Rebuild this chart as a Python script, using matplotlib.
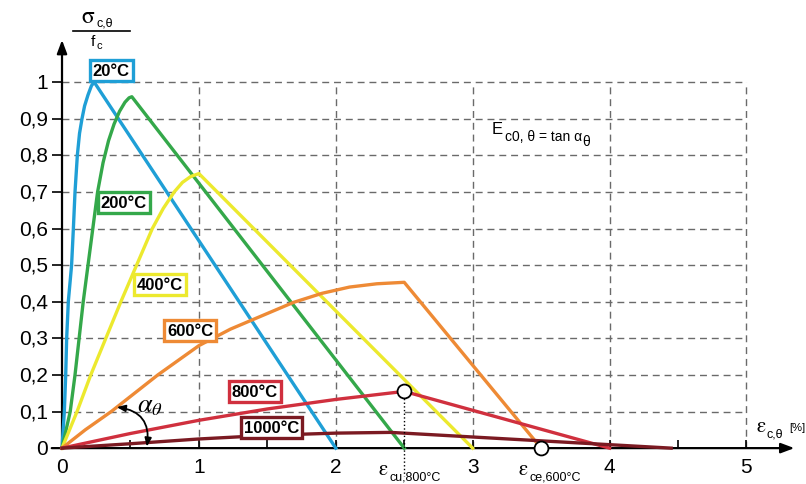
import matplotlib.pyplot as plt

plt.rcParams['font.family'] = ['Liberation Sans', 'DejaVu Sans']
plt.rcParams['mathtext.fontset'] = 'stix'

# Relative stress sigma/fc against strain [%] for each temperature
eps_20 = [0, 0.017, 0.027, 0.034, 0.046, 0.07, 0.083, 0.095, 0.112, 0.128, 0.146, 0.165, 0.19, 0.215, 0.235, 2.0]
sig_20 = [0, 0.1, 0.2, 0.3, 0.4, 0.5, 0.6, 0.7, 0.8, 0.86, 0.9, 0.935, 0.965, 0.99, 1.0, 0]

eps_200 = [0, 0.06, 0.095, 0.125, 0.155, 0.19, 0.225, 0.26, 0.3, 0.34, 0.38, 0.42, 0.46, 0.49, 0.51, 2.5]
sig_200 = [0, 0.1, 0.2, 0.3, 0.4, 0.5, 0.6, 0.7, 0.78, 0.84, 0.885, 0.92, 0.945, 0.957, 0.96, 0]

eps_400 = [0, 0.11, 0.21, 0.32, 0.43, 0.545, 0.66, 0.74, 0.82, 0.88, 0.94, 1.0, 3.0]
sig_400 = [0, 0.1, 0.2, 0.3, 0.4, 0.5, 0.6, 0.655, 0.7, 0.726, 0.742, 0.75, 0]

eps_600 = [0, 0.17, 0.36, 0.7, 1.0, 1.23, 1.4, 1.69, 1.9, 2.1, 2.3, 2.5, 3.5]
sig_600 = [0, 0.05, 0.1, 0.2, 0.28, 0.325, 0.352, 0.398, 0.423, 0.44, 0.449, 0.453, 0]

eps_800 = [0, 0.5, 1.0, 1.5, 2.0, 2.5, 4.0]
sig_800 = [0, 0.04, 0.076, 0.107, 0.133, 0.155, 0]

eps_1000 = [0, 0.5, 1.0, 1.5, 2.0, 2.4, 4.45]
sig_1000 = [0, 0.012, 0.025, 0.035, 0.041, 0.043, 0]

temps = ['20°C', '200°C', '400°C', '600°C', '800°C', '1000°C']
colors = ['#1f9fd6', '#34a84a', '#ece92e', '#ee8a35', '#d0303e', '#7b1a22']
curves = [(eps_20, sig_20), (eps_200, sig_200), (eps_400, sig_400),
          (eps_600, sig_600), (eps_800, sig_800), (eps_1000, sig_1000)]
label_pos = [(0.36, 1.033), (0.45, 0.672), (0.716, 0.448),
             (0.935, 0.322), (1.41, 0.155), (1.53, 0.055)]

x_ticks = [0, 1, 2, 3, 4, 5]
x_minor = [0.5, 1.5, 2.5, 3.5, 4.5]
y_ticks = [0, 0.1, 0.2, 0.3, 0.4, 0.5, 0.6, 0.7, 0.8, 0.9, 1.0]
y_ticklabels = ['0', '0,1', '0,2', '0,3', '0,4', '0,5', '0,6', '0,7', '0,8', '0,9', '1']

# marked points: ultimate strain at 800°C and end strain at 600°C
eps_cu_800, sig_cu_800 = 2.5, 0.155
eps_ce_600 = 3.5

fig = plt.figure(figsize=(8.06, 4.85), dpi=100)
ax = fig.add_axes([0, 0, 1, 1])
ax.set_xlim(-0.453, 5.435)
ax.set_ylim(-0.098, 1.227)
ax.axis('off')

grid = dict(color='#6a6a6a', lw=1.0, linestyles=(0, (5, 3.5)))
ax.hlines(y_ticks[1:], 0, x_ticks[-1], **grid)
ax.vlines(x_ticks[1:], 0, y_ticks[-1], **grid)

# axes with arrow heads
ax.annotate('', xy=(5.35, 0), xytext=(-0.075, 0),
            arrowprops=dict(arrowstyle='-|>,head_length=0.8,head_width=0.3',
                            color='black', lw=1.6, shrinkA=0, shrinkB=0))
ax.annotate('', xy=(0, 1.115), xytext=(0, 0),
            arrowprops=dict(arrowstyle='-|>,head_length=0.8,head_width=0.3',
                            color='black', lw=1.6, shrinkA=0, shrinkB=0))
ax.hlines(y_ticks[1:], -0.075, 0, color='black', lw=1.2)
ax.vlines(x_minor + x_ticks[1:], 0, 0.022, color='black', lw=1.2)

for y, s in zip(y_ticks, y_ticklabels):
    ax.text(-0.1, y, s, ha='right', va='center', fontsize=15)
for x in x_ticks:
    ax.text(x, -0.05, str(x), ha='center', va='center', fontsize=15)

for (xs, ys), c in zip(curves, colors):
    ax.plot(xs, ys, color=c, lw=2.4, solid_joinstyle='round', zorder=3)

for t, c, (lx, ly) in zip(temps, colors, label_pos):
    ax.text(lx, ly, t, ha='center', va='center', fontsize=12, fontweight='bold',
            zorder=5, bbox=dict(boxstyle='square,pad=0.18', fc='white', ec=c, lw=2.4))

# open markers and dotted leader
ax.plot([eps_cu_800, eps_cu_800], [sig_cu_800, -0.075], color='black', lw=1, ls=':', zorder=4)
ax.plot([eps_cu_800, eps_ce_600], [sig_cu_800, 0], ls='none', marker='o', ms=10,
        mfc='white', mec='black', mew=1.3, zorder=6)

ax.text(2.345, -0.057, 'ε', ha='center', va='center', fontsize=15, family='STIXGeneral')
ax.text(2.39, -0.078, 'cu,800°C', ha='left', va='center', fontsize=9)
ax.text(3.37, -0.057, 'ε', ha='center', va='center', fontsize=15, family='STIXGeneral')
ax.text(3.415, -0.078, 'ce,600°C', ha='left', va='center', fontsize=9)

# axis titles
ax.text(5.11, 0.06, 'ε', ha='center', va='center', fontsize=15, family='STIXGeneral')
ax.text(5.15, 0.041, 'c,θ', ha='left', va='center', fontsize=9)
ax.text(5.31, 0.058, '[%]', ha='left', va='center', fontsize=8)

ax.text(0.19, 1.18, 'σ', ha='center', va='center', fontsize=17, family='STIXGeneral')
ax.text(0.255, 1.164, 'c,θ', ha='left', va='center', fontsize=9)
ax.plot([0.08, 0.5], [1.139, 1.139], color='black', lw=1.2)
ax.text(0.226, 1.112, 'f', ha='center', va='center', fontsize=11)
ax.text(0.25, 1.102, 'c', ha='left', va='center', fontsize=8)

ax.text(3.18, 0.872, 'E', ha='center', va='center', fontsize=12)
ax.text(3.236, 0.852, 'c0, θ = tan α', ha='left', va='center', fontsize=10)
ax.text(3.8, 0.838, 'θ', ha='left', va='center', fontsize=10)

# angle between tangent and strain axis
ax.annotate('', xy=(0.62, 0.004), xytext=(0.40, 0.112),
            arrowprops=dict(arrowstyle='<|-|>,head_length=0.5,head_width=0.2',
                            color='black', lw=1.3, shrinkA=0, shrinkB=0,
                            connectionstyle='arc3,rad=-0.5'), zorder=6)
ax.text(0.645, 0.118, r'$\alpha_\theta$', ha='center', va='center', fontsize=19)

fig.savefig('out.png', dpi=100)
